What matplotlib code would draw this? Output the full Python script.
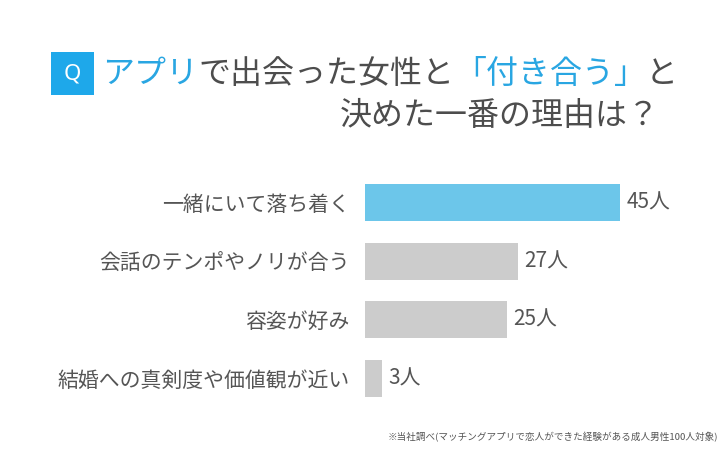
import matplotlib
matplotlib.use("Agg")
import matplotlib.pyplot as plt
from matplotlib.patches import Rectangle

plt.rcParams['font.family'] = ['Noto Sans CJK JP', 'DejaVu Sans']

categories = ["一緒にいて落ち着く", "会話のテンポやノリが合う", "容姿が好み", "結婚への真剣度や価値観が近い"]
values = [45, 27, 25, 3]
value_labels = ["45人", "27人", "25人", "3人"]
bar_colors = ["#6cc6ea", "#cccccc", "#cccccc", "#cccccc"]
title_line1 = [("アプリ", "#29a6e2"), ("で出会った女性と", "#4d4d4d"), ("「付き合う」", "#29a6e2"), ("と", "#4d4d4d")]
title_line2 = "決めた一番の理由は？"
footnote = "※当社調べ(マッチングアプリで恋人ができた経験がある成人男性100人対象)"

W, H = 726, 450
fig = plt.figure(figsize=(W / 100, H / 100), dpi=100)
fig.patch.set_facecolor("white")

# overlay axes for title
oax = fig.add_axes([0, 0, 1, 1])
oax.set_xlim(0, W)
oax.set_ylim(H, 0)
oax.axis("off")

# Q box
oax.add_patch(Rectangle((51, 52), 43, 43, facecolor="#1ea8ea", edgecolor="none"))
oax.text(72.5, 74, "Q", color="white", fontsize=16, ha="center", va="center",
         family=["Noto Sans", "DejaVu Sans"], fontweight="light")

fs = 23
prev = oax.text(102, 74, title_line1[0][0], color=title_line1[0][1], fontsize=fs,
                ha="left", va="center")
for txt, col in title_line1[1:]:
    prev = oax.annotate(txt, xy=(1, 0), xycoords=prev, color=col, fontsize=fs,
                        ha="left", va="bottom")
oax.text(660, 116, title_line2, color="#4d4d4d", fontsize=fs, ha="right", va="center")

oax.text(718, 437, footnote, color="#555555", fontsize=6.9, ha="right", va="center")

# bar axes
left = 365 / W
ax = fig.add_axes([left, 0, 1 - left, 1])
px_per_unit = 255 / 45
ax.set_xlim(0, (W - 365) / px_per_unit)
spacing = 58.67
ax.set_ylim(3 + (H - 378.5) / spacing, -202.5 / spacing)
ypos = list(range(len(categories)))
ax.barh(ypos, values, height=0.63, color=bar_colors)
for y, v, lab in zip(ypos, values, value_labels):
    ax.text(v + 1.1, y, lab, color="#555555", fontsize=15, ha="left", va="center")
ax.set_yticks(ypos)
ax.set_yticklabels(categories, fontsize=15, color="#555555")
ax.tick_params(axis="y", length=0, pad=11)
ax.set_xticks([])
for s in ax.spines.values():
    s.set_visible(False)
ax.patch.set_alpha(0)

fig.savefig("out.png", dpi=100, facecolor="white")
